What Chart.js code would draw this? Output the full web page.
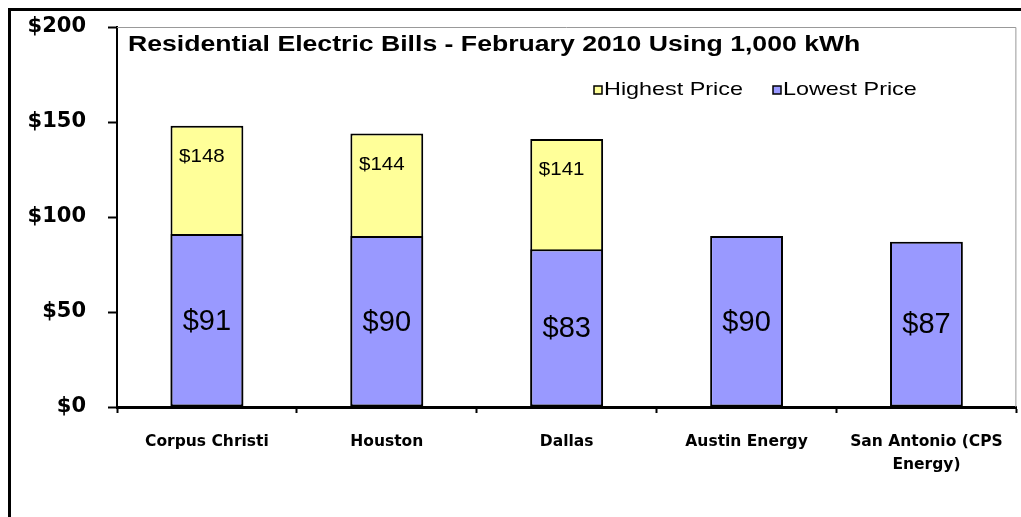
<!DOCTYPE html>
<html>
<head>
<meta charset="utf-8">
<script src="https://cdn.jsdelivr.net/npm/chart.js@4"></script>
<style>
  html, body { margin: 0; padding: 0; background: #fff; }
  #wrap { width: 1021px; height: 517px; }
</style>
</head>
<body>
<div id="wrap"><canvas id="billsChart" width="1021" height="517"></canvas></div>
<script>
// chart data
const cities = ['Corpus Christi', 'Houston', 'Dallas', 'Austin Energy', ['San Antonio (CPS', 'Energy)']];
const lowestPrice = [91, 90, 83, 90, 87];
const highestPrice = [148, 144, 141, null, null];
const yTicks = [0, 50, 100, 150, 200];
const chartTitle = 'Residential Electric Bills - February 2010 Using 1,000 kWh';

const YELLOW = '#FFFF99';
const BLUE = '#9999FF';

// text drawn a bit wider than the font, like the original picture
function wideText(c, text, x, y, sx) {
  c.save();
  c.translate(x, y);
  c.scale(sx, 1);
  c.fillText(text, 0, 0);
  c.restore();
}

// title, legend, value labels and frame lines
const extras = {
  id: 'extras',
  afterDraw(chart) {
    const c = chart.ctx;
    const area = chart.chartArea;
    c.save();

    // thin gray border on top/right of plot area
    c.strokeStyle = '#999';
    c.lineWidth = 1;
    c.beginPath();
    c.moveTo(area.left, area.top + 0.5);
    c.lineTo(area.right - 0.5, area.top + 0.5);
    c.lineTo(area.right - 0.5, area.bottom);
    c.stroke();

    // outer frame (top and left)
    c.strokeStyle = '#000';
    c.lineWidth = 3;
    c.beginPath();
    c.moveTo(1021, 9.5);
    c.lineTo(9.5, 9.5);
    c.lineTo(9.5, 517);
    c.stroke();

    // title
    c.fillStyle = '#000';
    c.font = 'bold 22px "Liberation Sans", Arial, sans-serif';
    c.textAlign = 'left';
    c.textBaseline = 'middle';
    wideText(c, chartTitle, 128, 45, 1.21);

    // legend
    c.font = '19px "Liberation Sans", Arial, sans-serif';
    const legendItems = [
      { label: 'Highest Price', color: YELLOW, x: 594 },
      { label: 'Lowest Price', color: BLUE, x: 773 }
    ];
    legendItems.forEach(it => {
      c.fillStyle = it.color;
      c.fillRect(it.x, 86, 8, 8);
      c.strokeStyle = '#000';
      c.lineWidth = 1.5;
      c.strokeRect(it.x, 86, 8, 8);
      c.fillStyle = '#000';
      wideText(c, it.label, it.x + 10, 90, 1.23);
    });

    // value labels
    const y = chart.scales.y;
    const lowMeta = chart.getDatasetMeta(0);
    const highMeta = chart.getDatasetMeta(1);
    c.textAlign = 'center';
    c.font = '29px "Liberation Sans", Arial, sans-serif';
    lowMeta.data.forEach((bar, i) => {
      const mid = (y.getPixelForValue(lowestPrice[i]) + y.getPixelForValue(0)) / 2;
      c.fillText('$' + lowestPrice[i], bar.x, mid + 1);
    });
    c.font = '19px "Liberation Sans", Arial, sans-serif';
    highMeta.data.forEach((bar, i) => {
      if (highestPrice[i] == null) return;
      wideText(c, '$' + highestPrice[i], bar.x - 5, y.getPixelForValue(highestPrice[i]) + 31, 1.08);
    });
    c.restore();
  }
};

const ctx = document.getElementById('billsChart').getContext('2d');
const billsChart = new Chart(ctx, {
  type: 'bar',
  data: {
    labels: cities,
    datasets: [{
      label: 'Lowest Price',
      data: lowestPrice,
      backgroundColor: BLUE,
      borderColor: '#000',
      borderWidth: 2,
      borderSkipped: false
    }, {
      label: 'Highest Price',
      data: highestPrice,
      backgroundColor: YELLOW,
      borderColor: '#000',
      borderWidth: 2,
      borderSkipped: false
    }]
  },
  options: {
    responsive: false,
    animation: false,
    events: [],
    layout: { padding: { left: 0, top: 27, right: 3, bottom: 0 } },
    datasets: {
      bar: { categoryPercentage: 1, barPercentage: 0.405 }
    },
    plugins: {
      legend: { display: false },
      title: { display: false },
      tooltip: { enabled: false }
    },
    scales: {
      x: {
        stacked: true,
        afterFit(scale) { scale.height = 110; },
        grid: {
          drawOnChartArea: false,
          drawTicks: true,
          tickLength: 6,
          tickColor: '#000',
          tickWidth: 2
        },
        border: { color: '#000', width: 3 },
        ticks: {
          color: '#000',
          padding: 18,
          maxRotation: 0,
          font: { family: '"DejaVu Sans", sans-serif', size: 15.5, weight: 'bold', lineHeight: 1.45 }
        }
      },
      y: {
        stacked: false,
        min: 0,
        max: 200,
        afterFit(scale) {
          scale.width = 117;
          scale.paddingTop = 0;
          scale.paddingBottom = 0;
        },
        afterBuildTicks(scale) { scale.ticks = yTicks.map(v => ({ value: v })); },
        grid: {
          drawOnChartArea: false,
          drawTicks: true,
          tickLength: 9,
          tickColor: '#000',
          tickWidth: 2
        },
        border: { color: '#000', width: 2 },
        ticks: {
          color: '#000',
          padding: 22,
          font: { family: '"DejaVu Sans", sans-serif', size: 21, weight: 'bold' },
          callback: v => '$' + v
        }
      }
    }
  },
  plugins: [extras]
});
</script>
</body>
</html>
